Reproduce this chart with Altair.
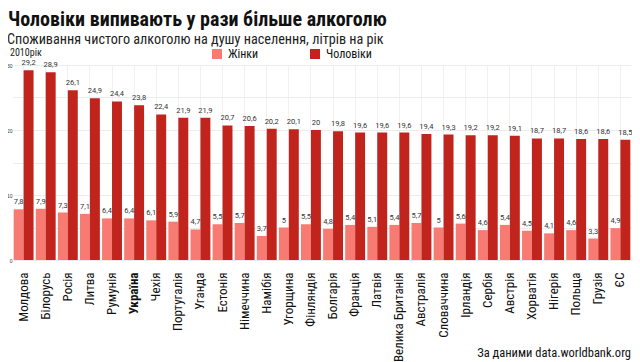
import altair as alt
import pandas as pd

countries = ["Молдова", "Білорусь", "Росія", "Литва", "Румунія", "Україна", "Чехія",
             "Португалія", "Уганда", "Естонія", "Німеччина", "Намібія", "Угорщина",
             "Фінляндія", "Болгарія", "Франція", "Латвія", "Велика Британія", "Австралія",
             "Словаччина", "Ірландія", "Сербія", "Австрія", "Хорватія", "Нігерія",
             "Польща", "Грузія", "ЄС"]
women = [7.8, 7.9, 7.3, 7.1, 6.4, 6.4, 6.1, 5.9, 4.7, 5.5, 5.7, 3.7, 5, 5.5,
         4.8, 5.4, 5.1, 5.4, 5.7, 5, 5.6, 4.6, 5.4, 4.5, 4.1, 4.6, 3.3, 4.9]
men = [29.2, 28.9, 26.1, 24.9, 24.4, 23.8, 22.4, 21.9, 21.9, 20.7, 20.6, 20.2, 20.1, 20,
       19.8, 19.6, 19.6, 19.6, 19.4, 19.3, 19.2, 19.2, 19.1, 18.7, 18.7, 18.6, 18.6, 18.5]
genders = ["Жінки", "Чоловіки"]
y_ticks = [0, 5, 10, 15, 20, 25, 30]

title_text = "Чоловіки випивають у рази більше алкоголю"
subtitle_text = "Споживання чистого алкоголю на душу населення, літрів на рік"
year_text = "2010рік"
source_text = "За даними data.worldbank.org"

rows = []
for c, w, m in zip(countries, women, men):
    rows.append({"country": c, "gender": genders[0], "value": w})
    rows.append({"country": c, "gender": genders[1], "value": m})
df = pd.DataFrame(rows)

FONT = "Liberation Sans Narrow, Roboto Condensed, Roboto, sans-serif"
colors = ["#F77B72", "#C0241D"]

base = alt.Chart(df).transform_calculate(
    label="replace(toString(datum.value), '.', ',')"
).encode(
    x=alt.X("country:N", sort=countries,
            scale=alt.Scale(paddingInner=0.1, paddingOuter=0.03),
            axis=alt.Axis(title=None, labelAngle=-90, labelFontSize=13, labelFont=FONT,
                          labelColor="#111", labelPadding=12, ticks=False, domain=False,
                          grid=True, gridColor="#f1f1f1",
                          labelFontWeight=alt.ExprRef("datum.value == 'Україна' ? 'bold' : 'normal'"))),
    xOffset=alt.XOffset("gender:N", sort=genders, scale=alt.Scale(paddingInner=0, paddingOuter=0)),
    y=alt.Y("value:Q", scale=alt.Scale(domain=[0, 30], nice=False),
            axis=alt.Axis(title=None, values=y_ticks, labelFontSize=5, labelColor="#333",
                          labelPadding=1, ticks=False, domain=False, gridColor="#ececec",
                          labelExpr="datum.value % 10 == 0 ? datum.label : ''")),
)

bars = base.mark_bar().encode(
    color=alt.Color("gender:N", sort=genders,
                    scale=alt.Scale(domain=genders, range=colors),
                    legend=alt.Legend(title=None, orient="none", legendX=198, legendY=-17,
                                      direction="horizontal", columns=2, symbolType="square",
                                      symbolSize=100, symbolStrokeWidth=0, symbolOpacity=1,
                                      labelFontSize=12, labelFont=FONT, labelColor="#111",
                                      columnPadding=50, labelOffset=5))
)

labels = base.mark_text(baseline="bottom", dy=-3, fontSize=7.5, color="#333",
                        font="Roboto").encode(text="label:N")

ann = alt.Chart(pd.DataFrame({"a": [0]}))
title = ann.mark_text(align="left", baseline="alphabetic", fontSize=20, fontWeight="bold",
                      font=FONT, color="#111").encode(
    x=alt.value(-5), y=alt.value(-38.8), text=alt.value(title_text))
subtitle = ann.mark_text(align="left", baseline="alphabetic", fontSize=14.2,
                         font=FONT, color="#222").encode(
    x=alt.value(-6), y=alt.value(-21.5), text=alt.value(subtitle_text))
year = ann.mark_text(align="left", baseline="alphabetic", fontSize=10,
                     font=FONT, color="#222").encode(
    x=alt.value(-3), y=alt.value(-9), text=alt.value(year_text))
source = ann.mark_text(align="right", baseline="alphabetic", fontSize=12.5,
                       font=FONT, color="#111").encode(
    x=alt.value(618), y=alt.value(292), text=alt.value(source_text))

chart = alt.layer(bars, labels, title, subtitle, year, source).properties(
    width=618, height=195,
    autosize=alt.AutoSizeParams(type="none"),
    padding={"left": 5, "top": 57, "right": 1, "bottom": 102},
).configure_view(stroke=None)

chart.save("out.html", embed_options={"renderer": "svg", "actions": False})
